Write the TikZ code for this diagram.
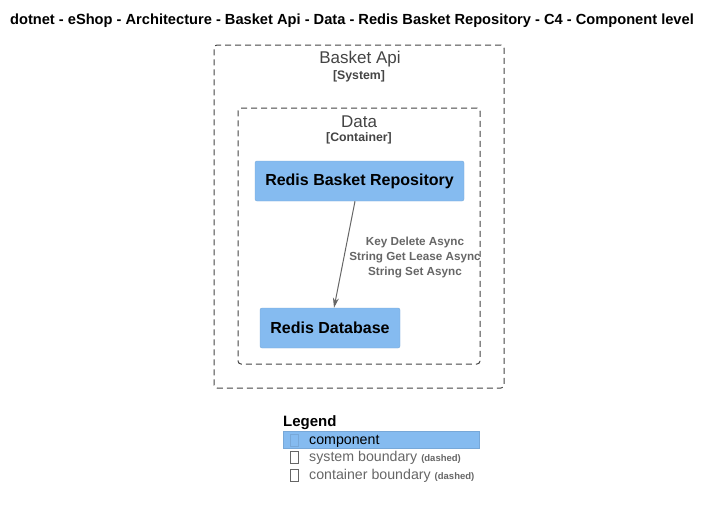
\documentclass[tikz,border=0pt]{standalone}
\usepackage{fontspec}
\setmainfont{Liberation Sans}
\usetikzlibrary{arrows.meta}
\usetikzlibrary{positioning}
\definecolor{comp blue}{HTML}{85BBF0}
\definecolor{comp line}{HTML}{78A8D8}
\definecolor{rel gray}{HTML}{666666}
\definecolor{bound gray}{HTML}{444444}
\tikzstyle{component}=[fill=comp blue,draw=comp line,rounded corners=2pt,inner sep=0pt,font=\fontsize{16}{19}\selectfont\bfseries]
\tikzstyle{boundary}=[draw=bound gray,line width=1pt,dash pattern=on 6pt off 4pt,rounded corners=3pt,inner sep=0pt]

\begin{document}
\begin{tikzpicture}[
  x=1pt,y=-1pt,
  btitle/.style={text=bound gray,font=\fontsize{17}{20}\selectfont,inner sep=0pt},
  btype/.style={text=bound gray,font=\fontsize{12.3}{14}\selectfont\bfseries,inner sep=0pt},
  rel/.style={draw=rel gray,line width=1pt,-{Stealth[length=10pt,width=6pt]}},
  rel label/.style={text=rel gray,font=\fontsize{11.7}{15}\selectfont\bfseries,align=center,inner sep=0pt},
  legend text/.style={anchor=west,inner sep=0pt,font=\fontsize{14.2}{16}\selectfont},
  tofu/.style={draw=#1,minimum width=8pt,minimum height=12pt,inner sep=0pt},
]
\useasboundingbox (0,0) rectangle (711,509);
\node[inner sep=0pt,font=\fontsize{14.65}{17}\selectfont\bfseries] (title) at (352,21)
  {dotnet - eShop - Architecture - Basket Api - Data - Redis Basket Repository - C4 - Component level};

% boundaries
\node[boundary,minimum width=290pt,minimum height=343pt] (sys) at (359,216.5) {};
\node[btitle] (sys name) at (360,59.5) {Basket Api};
\node[btype] (sys type) at (359,76.5) {[System]};
\node[boundary,minimum width=242pt,minimum height=256pt] (cont) at (359,236) {};
\node[btitle] (cont name) at (359,121.5) {Data};
\node[btype] (cont type) at (359,138.5) {[Container]};

% components
\node[component,minimum width=209pt,minimum height=40pt] (repo) at (359.5,181) {Redis Basket Repository};
\node[component,minimum width=140pt,minimum height=40pt] (db) at (330,328) {Redis Database};

\draw[rel] ([xshift=-4.5pt]repo.south) -- ([xshift=4pt]db.north);
\node[rel label] (ops) at (415,257) {Key Delete Async\\String Get Lease Async\\String Set Async};

% legend
\node[anchor=west,inner sep=0pt,font=\fontsize{15}{17}\selectfont\bfseries] (legend) at (283,423) {Legend};
\node[fill=comp blue,draw=comp line,anchor=north west,minimum width=196pt,minimum height=17pt,inner sep=0pt] (leg comp) at (283,431) {};
\node[tofu=comp line] (tofu1) at (294,440) {};
\node[legend text] (leg comp text) at (309,441) {component};
\node[tofu=rel gray] (tofu2) at (294,457) {};
\node[legend text,text=rel gray] (leg sys) at (309,458) {system boundary \fontsize{9.5}{10}\selectfont\bfseries(dashed)};
\node[tofu=rel gray] (tofu3) at (294,475) {};
\node[legend text,text=rel gray] (leg cont) at (309,476) {container boundary \fontsize{9.5}{10}\selectfont\bfseries(dashed)};
\end{tikzpicture}
\end{document}
